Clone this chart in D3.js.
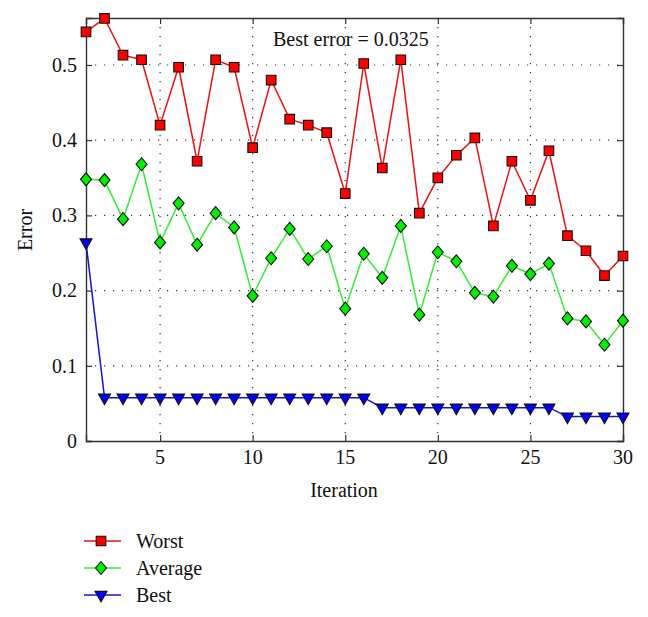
<!DOCTYPE html>
<html>
<head>
<meta charset="utf-8">
<script src="https://cdn.jsdelivr.net/npm/d3@7"></script>
<style>
  html, body { margin: 0; padding: 0; background: #fff; }
  svg { display: block; }
  text { font-family: "Liberation Serif", "Times New Roman", serif; fill: #111; }
</style>
</head>
<body>
<svg id="chart" width="648" height="617"></svg>
<script>
const iterations = d3.range(1, 31);
const worst = [0.544, 0.562, 0.513, 0.507, 0.420, 0.497, 0.372, 0.507, 0.497, 0.390,
               0.480, 0.428, 0.420, 0.410, 0.329, 0.502, 0.363, 0.507, 0.303, 0.350,
               0.380, 0.403, 0.286, 0.372, 0.320, 0.386, 0.273, 0.253, 0.220, 0.246];
const average = [0.348, 0.347, 0.295, 0.368, 0.264, 0.316, 0.261, 0.303, 0.284, 0.193,
                 0.243, 0.282, 0.242, 0.259, 0.176, 0.249, 0.217, 0.286, 0.168, 0.251,
                 0.239, 0.197, 0.192, 0.233, 0.222, 0.236, 0.163, 0.159, 0.128, 0.160];
const best = [0.264, 0.0576, 0.0576, 0.0576, 0.0576, 0.0576, 0.0576, 0.0576, 0.0576, 0.0576,
              0.0576, 0.0576, 0.0576, 0.0576, 0.0576, 0.0576, 0.0443, 0.0443, 0.0443, 0.0443,
              0.0443, 0.0443, 0.0443, 0.0443, 0.0443, 0.0443, 0.0325, 0.0325, 0.0325, 0.0325];
const xTicks = [5, 10, 15, 20, 25, 30];
const yTicks = [0, 0.1, 0.2, 0.3, 0.4, 0.5];
const seriesNames = ["Worst", "Average", "Best"];
const annotation = "Best error = 0.0325";

(function () {
const svg = d3.select("#chart");
const pLeft = 86, pRight = 623, pTop = 18, pBottom = 441;
const x = d3.scaleLinear().domain([1, 30]).range([pLeft, pRight]);
const y = d3.scaleLinear().domain([0, 0.5625]).range([pBottom, pTop]);

// grid
const grid = svg.append("g");
grid.selectAll("line.gx").data(xTicks.filter(t => t < 30)).enter().append("line")
  .attr("x1", d => x(d)).attr("x2", d => x(d)).attr("y1", pTop).attr("y2", pBottom)
  .attr("stroke", "#333").attr("stroke-width", 1.2).attr("stroke-dasharray", "1.2,7.8");
grid.selectAll("line.gy").data(yTicks.filter(t => t > 0)).enter().append("line")
  .attr("x1", pLeft).attr("x2", pRight).attr("y1", d => y(d)).attr("y2", d => y(d))
  .attr("stroke", "#333").attr("stroke-width", 1.2).attr("stroke-dasharray", "1.2,7.8");

// axes (inward ticks on all sides)
const axB = d3.axisBottom(x).tickValues(xTicks).tickSize(-6).tickFormat("");
const axT = d3.axisTop(x).tickValues(xTicks).tickSize(-6).tickFormat("");
const axL = d3.axisLeft(y).tickValues(yTicks).tickSize(-6).tickFormat("");
const axR = d3.axisRight(y).tickValues(yTicks).tickSize(-6).tickFormat("");
function styleAxis(g) {
  g.selectAll("path").attr("stroke", "#333").attr("stroke-width", 1.4);
  g.selectAll("line").attr("stroke", "#333").attr("stroke-width", 1.2);
}
svg.append("g").attr("transform", `translate(0,${pBottom})`).call(axB).call(styleAxis);
svg.append("g").attr("transform", `translate(0,${pTop})`).call(axT).call(styleAxis);
svg.append("g").attr("transform", `translate(${pLeft},0)`).call(axL).call(styleAxis);
svg.append("g").attr("transform", `translate(${pRight},0)`).call(axR).call(styleAxis);

// tick labels
svg.append("g").selectAll("text").data(xTicks).enter().append("text")
  .attr("x", d => x(d)).attr("y", 464).attr("text-anchor", "middle")
  .attr("font-size", 20).text(d => d);
svg.append("g").selectAll("text").data(yTicks).enter().append("text")
  .attr("x", 77).attr("y", d => y(d) + 6.8).attr("text-anchor", "end")
  .attr("font-size", 20).text(d => d === 0 ? "0" : d3.format(".1f")(d));

// axis titles
svg.append("text").attr("x", 344).attr("y", 497).attr("text-anchor", "middle")
  .attr("font-size", 20).text("Iteration");
svg.append("text").attr("transform", "translate(32,230) rotate(-90)")
  .attr("text-anchor", "middle").attr("font-size", 20).text("Error");
svg.append("text").attr("x", 273).attr("y", 46).attr("font-size", 20).text(annotation);

// series
const series = [
  { name: seriesNames[0], values: worst, line: "#ee1111", fill: "#ff0000", shape: "square" },
  { name: seriesNames[1], values: average, line: "#33ee33", fill: "#00ee00", shape: "diamond" },
  { name: seriesNames[2], values: best, line: "#1414cc", fill: "#0000ff", shape: "tri" }
];
function markerPath(shape) {
  if (shape === "square") return "M-4.8,-4.8H4.8V4.8H-4.8Z";
  if (shape === "diamond") return "M0,-6.5L5.5,0L0,6.5L-5.5,0Z";
  return "M-6,-3.6L6,-3.6L0,7Z"; // downward triangle, centroid at origin
}
const line = d3.line().x((d, i) => x(iterations[i])).y(d => y(d));
series.forEach(s => {
  svg.append("path").datum(s.values).attr("d", line)
    .attr("fill", "none").attr("stroke", s.line).attr("stroke-width", 1.5);
});
series.forEach(s => {
  svg.append("g").selectAll("path").data(s.values).enter().append("path")
    .attr("transform", (d, i) => `translate(${x(iterations[i])},${y(d)})`)
    .attr("d", markerPath(s.shape))
    .attr("fill", s.fill).attr("stroke", "#111").attr("stroke-width", 1.1);
});

// legend
const legY = [541, 568, 595];
series.forEach((s, i) => {
  const g = svg.append("g").attr("transform", `translate(0,${legY[i]})`);
  g.append("line").attr("x1", 84).attr("x2", 121).attr("y1", 0).attr("y2", 0)
    .attr("stroke", s.line).attr("stroke-width", 1.5);
  g.append("path").attr("transform", "translate(101,0)")
    .attr("d", markerPath(s.shape))
    .attr("fill", s.fill).attr("stroke", "#111").attr("stroke-width", 1.1);
  g.append("text").attr("x", 136).attr("y", 7).attr("font-size", 20).text(s.name);
});
})();
</script>
</body>
</html>
